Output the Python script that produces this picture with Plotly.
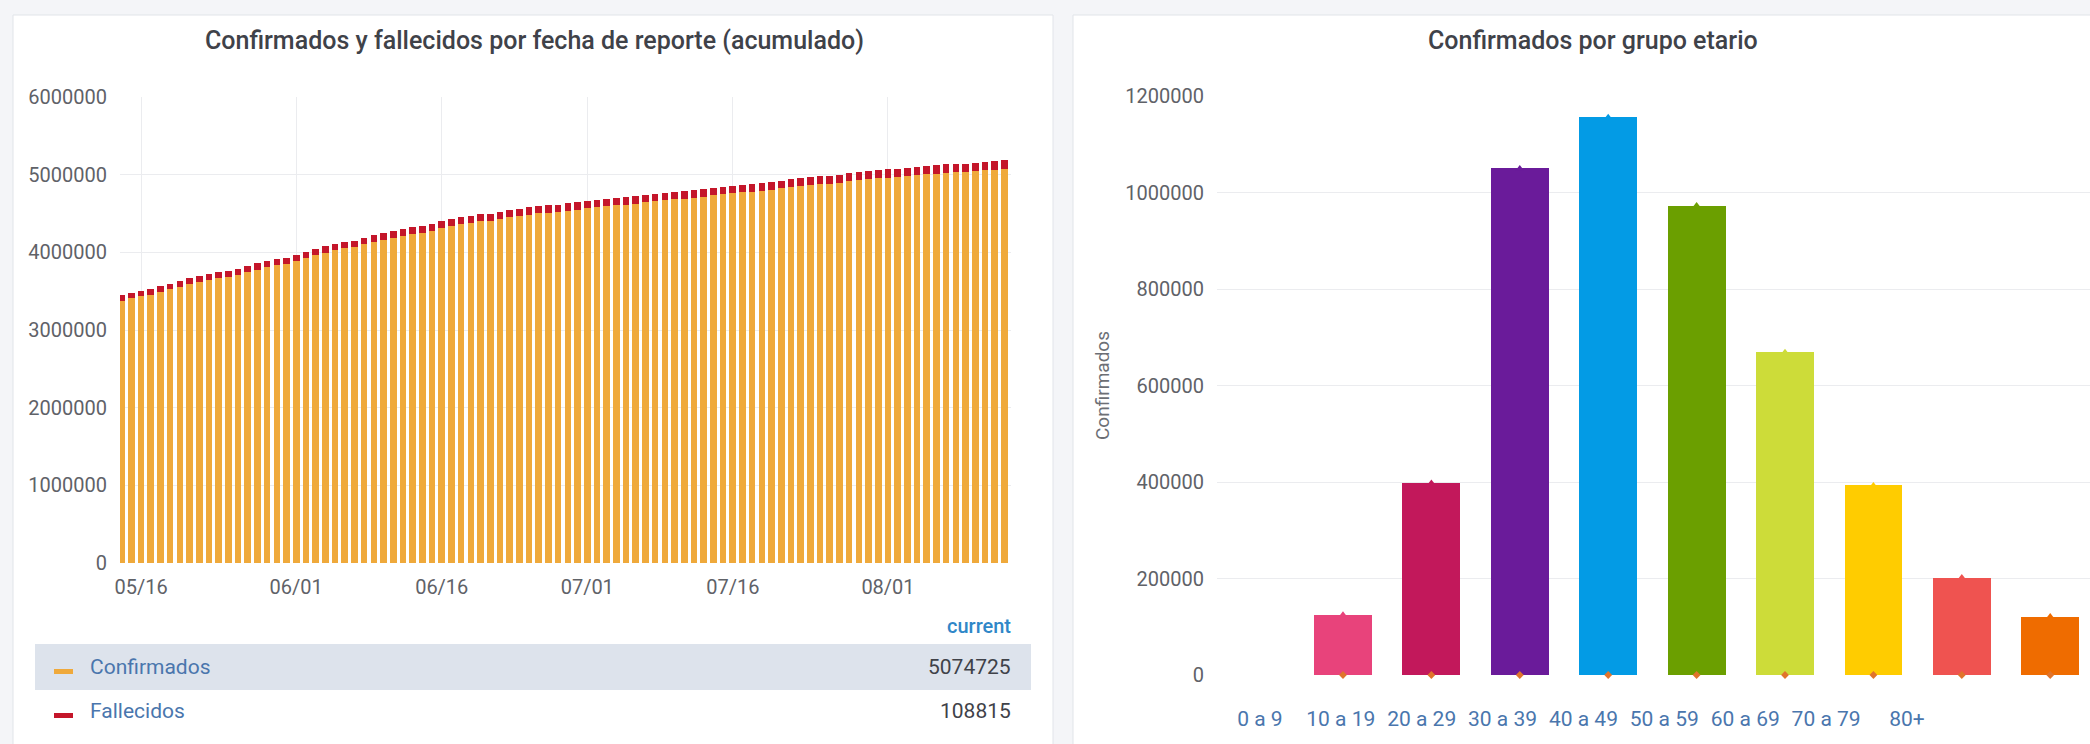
import pandas as pd
import plotly.graph_objects as go

# ---------------- data ----------------
start_date = "2021-05-14"
confirmados = [
    3379000, 3411000, 3435000, 3454000, 3489000, 3522000, 3558000, 3591000, 3621000, 3646000,
    3666000, 3684000, 3709000, 3747000, 3779000, 3807000, 3831000, 3852000, 3890000,
    3927000, 3963000, 3996000, 4026000, 4050000, 4069000, 4103000, 4134000, 4163000, 4190000,
    4214000, 4234000, 4249000, 4278000, 4312000,
    4339000, 4363000, 4383000, 4398000, 4409000, 4430000, 4450000, 4469000, 4486000, 4501000,
    4512000, 4521000, 4537000, 4551000, 4566000,
    4581000, 4595000, 4605000, 4612000, 4627000, 4643000, 4658000, 4671000, 4682000, 4691000,
    4699000, 4717000, 4732000, 4746000, 4760000,
    4773000, 4783000, 4791000, 4807000, 4822000, 4837000, 4851000, 4864000, 4874000, 4881000,
    4898000, 4914000, 4929000, 4943000, 4955000,
    4963000, 4969000, 4981000, 4993000, 5004000, 5015000, 5024000, 5031000, 5036000, 5046000,
    5056000, 5065500, 5074725,
]
fallecidos = [
    71000, 71500, 71900, 72200, 72800, 73300, 73800, 74300, 74800, 75200,
    75500, 75800, 76300, 76900, 77500, 78100, 78600, 79000,
    79600, 80200, 80800, 81400, 82000, 82400, 82700, 83400, 84000, 84600,
    85200, 85700, 86100, 86400, 87200, 88000, 88600, 89100, 89600, 89900,
    90100, 90600, 91100, 91600, 92100, 92500, 92800, 93000, 93500, 94000,
    94500, 94900, 95300, 95600, 95800, 96300, 96700, 97200, 97600, 98000,
    98200, 98400, 98900, 99300, 99700, 100000, 100300, 100500, 100700, 101100,
    101500, 101900, 102300, 102600, 102800, 103000, 103400, 103800, 104200, 104600,
    105000, 105200, 105400, 105800, 106200, 106500, 106800, 107100, 107300, 107500,
    107900, 108200, 108500, 108815,
]
date_ticks = ["2021-05-16", "2021-06-01", "2021-06-16", "2021-07-01", "2021-07-16", "2021-08-01"]
date_tick_labels = ["05/16", "06/01", "06/16", "07/01", "07/16", "08/01"]

age_groups = ["0 a 9", "10 a 19", "20 a 29", "30 a 39", "40 a 49", "50 a 59", "60 a 69", "70 a 79", "80+"]
age_confirmados = [125000, 398000, 1050000, 1156000, 973000, 669000, 393000, 202000, 121000]
age_colors = ["#E8437B", "#C2185B", "#6A1B9A", "#039BE5", "#6B9F00", "#CDDC39", "#FFCC00", "#EF5350", "#EF6C00"]

dates = pd.date_range(start_date, periods=len(confirmados), freq="D")

# ---------------- style ----------------
W, H = 2090, 744
FONT = "Roboto"
ORANGE = "#EFA93B"
RED = "#C4162A"
GRID = "#ebecef"
TICK = "#5f6268"
TITLE = "#3f4249"
BLUE_TXT = "#4a76ad"


def X(px):
    return px / W


def Y(py):
    return 1 - py / H


fig = go.Figure()

fig.add_trace(go.Bar(x=dates, y=confirmados, name="Confirmados", marker=dict(color=ORANGE, line_width=0),
                     xaxis="x", yaxis="y"))
fig.add_trace(go.Bar(x=dates, y=fallecidos, name="Fallecidos", marker=dict(color=RED, line_width=0),
                     xaxis="x", yaxis="y"))

idx = list(range(len(age_groups)))
fig.add_trace(go.Bar(x=idx, y=age_confirmados, hovertext=age_groups, width=0.654,
                     marker=dict(color=age_colors, line_width=0), xaxis="x2", yaxis="y2"))
fig.add_trace(go.Scatter(x=idx, y=age_confirmados, mode="markers", cliponaxis=False,
                         marker=dict(symbol="triangle-up", size=7, color=age_colors),
                         xaxis="x2", yaxis="y2", hoverinfo="skip"))
fig.add_trace(go.Scatter(x=idx, y=[0] * len(idx), mode="markers", cliponaxis=False,
                         marker=dict(symbol="diamond", size=6, color="#E0742C"),
                         xaxis="x2", yaxis="y2", hoverinfo="skip"))

label_start, label_step = -0.94, 0.915
label_pos = [label_start + label_step * i for i in range(len(age_groups))]

shapes = [
    # cards
    dict(type="rect", xref="paper", yref="paper", x0=X(13), x1=X(1053), y0=Y(760), y1=Y(15),
         fillcolor="white", line=dict(color="#e1e4e9", width=1), layer="below"),
    dict(type="rect", xref="paper", yref="paper", x0=X(1073), x1=X(2120), y0=Y(760), y1=Y(15),
         fillcolor="white", line=dict(color="#e1e4e9", width=1), layer="below"),
    # legend highlighted row
    dict(type="rect", xref="paper", yref="paper", x0=X(35), x1=X(1031), y0=Y(690), y1=Y(644),
         fillcolor="#dde3ec", line_width=0, layer="below"),
    # legend swatches
    dict(type="rect", xref="paper", yref="paper", x0=X(54), x1=X(73), y0=Y(674), y1=Y(669),
         fillcolor=ORANGE, line_width=0),
    dict(type="rect", xref="paper", yref="paper", x0=X(54), x1=X(73), y0=Y(718), y1=Y(713),
         fillcolor=RED, line_width=0),
]

annotations = [
    dict(text="Confirmados y fallecidos por fecha de reporte (acumulado)", x=X(534), y=Y(41),
         font=dict(family=FONT, size=25, color=TITLE, weight=500)),
    dict(text="Confirmados por grupo etario", x=X(1593), y=Y(41),
         font=dict(family=FONT, size=25, color=TITLE, weight=500)),
    dict(text="current", x=X(1013), y=Y(626), xanchor="right",
         font=dict(family=FONT, size=20, color="#2f87c8", weight=500)),
    dict(text="Confirmados", x=X(88), y=Y(667), xanchor="left",
         font=dict(family=FONT, size=21, color=BLUE_TXT)),
    dict(text=str(confirmados[-1]), x=X(1013), y=Y(667), xanchor="right",
         font=dict(family=FONT, size=21, color="#3f4249")),
    dict(text="Fallecidos", x=X(88), y=Y(711), xanchor="left",
         font=dict(family=FONT, size=21, color=BLUE_TXT)),
    dict(text=str(fallecidos[-1]), x=X(1013), y=Y(711), xanchor="right",
         font=dict(family=FONT, size=21, color="#3f4249")),
]
for a in annotations:
    a.setdefault("xref", "paper")
    a.setdefault("yref", "paper")
    a.setdefault("showarrow", False)
    a.setdefault("yanchor", "middle")
    a.setdefault("xanchor", "center")

tickfont = dict(family=FONT, size=20, color=TICK)

fig.update_layout(
    width=W, height=H,
    margin=dict(l=0, r=0, t=0, b=0, autoexpand=False),
    paper_bgcolor="#f4f5f8",
    plot_bgcolor="rgba(0,0,0,0)",
    barmode="stack",
    bargap=0.32,
    showlegend=False,
    shapes=shapes,
    annotations=annotations,
    xaxis=dict(domain=[X(120), X(1011)], anchor="y", type="date", automargin=False,
               range=["2021-05-13 20:00", "2021-08-13 16:20"],
               tickvals=date_ticks, ticktext=date_tick_labels,
               showgrid=True, gridcolor=GRID, zeroline=False, showline=False,
               ticks="outside", ticklen=6, tickcolor="rgba(0,0,0,0)", tickfont=tickfont),
    yaxis=dict(domain=[Y(563), Y(97)], anchor="x", range=[0, 6000000], dtick=1000000, automargin=False,
               tickformat="d", showgrid=True, gridcolor=GRID, zeroline=False, showline=False,
               ticks="outside", ticklen=8, tickcolor="rgba(0,0,0,0)", tickfont=tickfont),
    xaxis2=dict(domain=[X(1217), 1.0], anchor="y2", range=[-1.425, 8.45], automargin=False,
                tickvals=label_pos, ticktext=age_groups,
                showgrid=False, zeroline=False, showline=False,
                ticks="outside", ticklen=25, tickcolor="rgba(0,0,0,0)",
                tickfont=dict(family=FONT, size=21, color=BLUE_TXT)),
    yaxis2=dict(domain=[Y(675), Y(96)], anchor="x2", range=[0, 1200000], dtick=200000, automargin=False,
                tickformat="d", showgrid=True, gridcolor=GRID, zeroline=False, showline=False,
                ticks="outside", ticklen=8, tickcolor="rgba(0,0,0,0)", tickfont=tickfont,
                title=dict(text="Confirmados", standoff=10,
                           font=dict(family=FONT, size=19, color="#6c6f75"))),
)

fig.write_html("out.html", config={"displayModeBar": False},
               post_script="document.body.style.margin='0';document.body.style.overflow='hidden';")
